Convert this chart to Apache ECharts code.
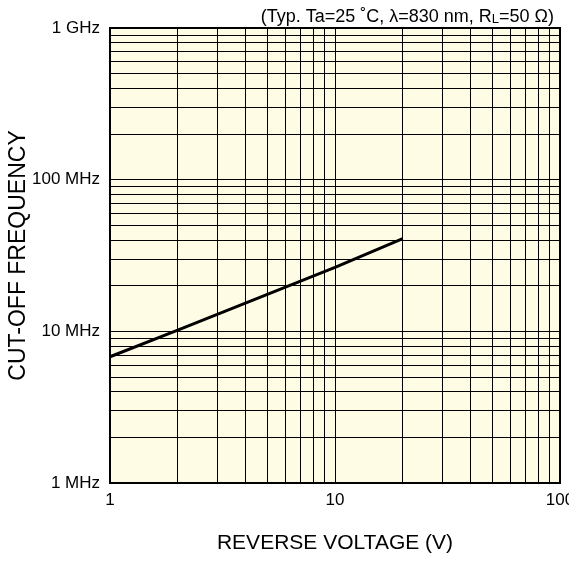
<!DOCTYPE html>
<html>
<head>
<meta charset="utf-8">
<script src="https://cdn.jsdelivr.net/npm/echarts@6/dist/echarts.min.js"></script>
<style>
  html, body { margin: 0; padding: 0; background: #fff; }
  #chart { width: 569px; height: 563px; }
</style>
</head>
<body>
<div id="chart"></div>
<script>
// 截止频率 vs 反向电压
const voltage = [1, 2, 10, 20];
const cutoffMHz = [6.8, 10.2, 26.4, 40.8];
const xMinorGrid = [2, 3, 4, 5, 6, 7, 8, 9, 20, 30, 40, 50, 60, 70, 80, 90];
const yMinorGrid = [2, 3, 4, 5, 6, 7, 8, 9, 20, 30, 40, 50, 60, 70, 80, 90,
  200, 300, 400, 500, 600, 700, 800, 900];

const chart = echarts.init(document.getElementById('chart'));
const font = 'Liberation Sans, Arial, Helvetica, sans-serif';

const gridMarks = xMinorGrid.map(v => ({ xAxis: v }))
  .concat(yMinorGrid.map(v => ({ yAxis: v })));

const optionData = {
  animation: false,
  title: {
    text: '{n|(Typ. Ta=25 ˚C, λ=830 nm, R}{s|L}{n|=50 Ω)}',
    right: 10,
    top: 3,
    textStyle: {
      fontWeight: 'normal',
      rich: {
        n: { fontFamily: font, fontSize: 18, lineHeight: 18, fontWeight: 'normal', color: '#000', verticalAlign: 'bottom' },
        s: { fontFamily: font, fontSize: 13, lineHeight: 13, fontWeight: 'normal', color: '#000', verticalAlign: 'bottom' }
      }
    }
  },
  grid: {
    left: 110, right: 9, top: 28, bottom: 80,
    outerBoundsMode: 'none',
    containLabel: false,
    show: true,
    backgroundColor: '#FFFCE6',
    borderColor: '#000',
    borderWidth: 2
  },
  xAxis: {
    type: 'log',
    logBase: 10,
    min: 1,
    max: 100,
    name: 'REVERSE VOLTAGE (V)',
    nameLocation: 'middle',
    nameGap: 50,
    nameMoveOverlap: false,
    nameTextStyle: { fontFamily: font, fontSize: 21, color: '#000' },
    axisLine: { show: true, lineStyle: { color: '#000', width: 2 } },
    axisTick: { show: false },
    axisLabel: { fontFamily: font, fontSize: 17, color: '#000', margin: 9 },
    splitLine: { show: true, lineStyle: { color: '#000', width: 1 } }
  },
  yAxis: {
    type: 'log',
    logBase: 10,
    min: 1,
    max: 1000,
    name: 'CUT-OFF FREQUENCY',
    nameLocation: 'middle',
    nameGap: 80,
    nameMoveOverlap: false,
    nameTextStyle: { fontFamily: font, fontSize: 23, color: '#000' },
    axisLine: { show: true, lineStyle: { color: '#000', width: 2 } },
    axisTick: { show: false },
    axisLabel: {
      fontFamily: font, fontSize: 17, color: '#000', margin: 10,
      formatter: v => (v >= 1000 ? (v / 1000) + ' GHz' : v + ' MHz')
    },
    splitLine: { show: true, lineStyle: { color: '#000', width: 1 } }
  },
  series: [{
    type: 'line',
    data: voltage.map((v, i) => [v, cutoffMHz[i]]),
    showSymbol: false,
    lineStyle: { color: '#000', width: 3 },
    markLine: {
      silent: true,
      symbol: 'none',
      label: { show: false },
      lineStyle: { color: '#000', width: 1, type: 'solid' },
      data: gridMarks
    }
  }]
};
chart.setOption(optionData);
</script>
</body>
</html>
